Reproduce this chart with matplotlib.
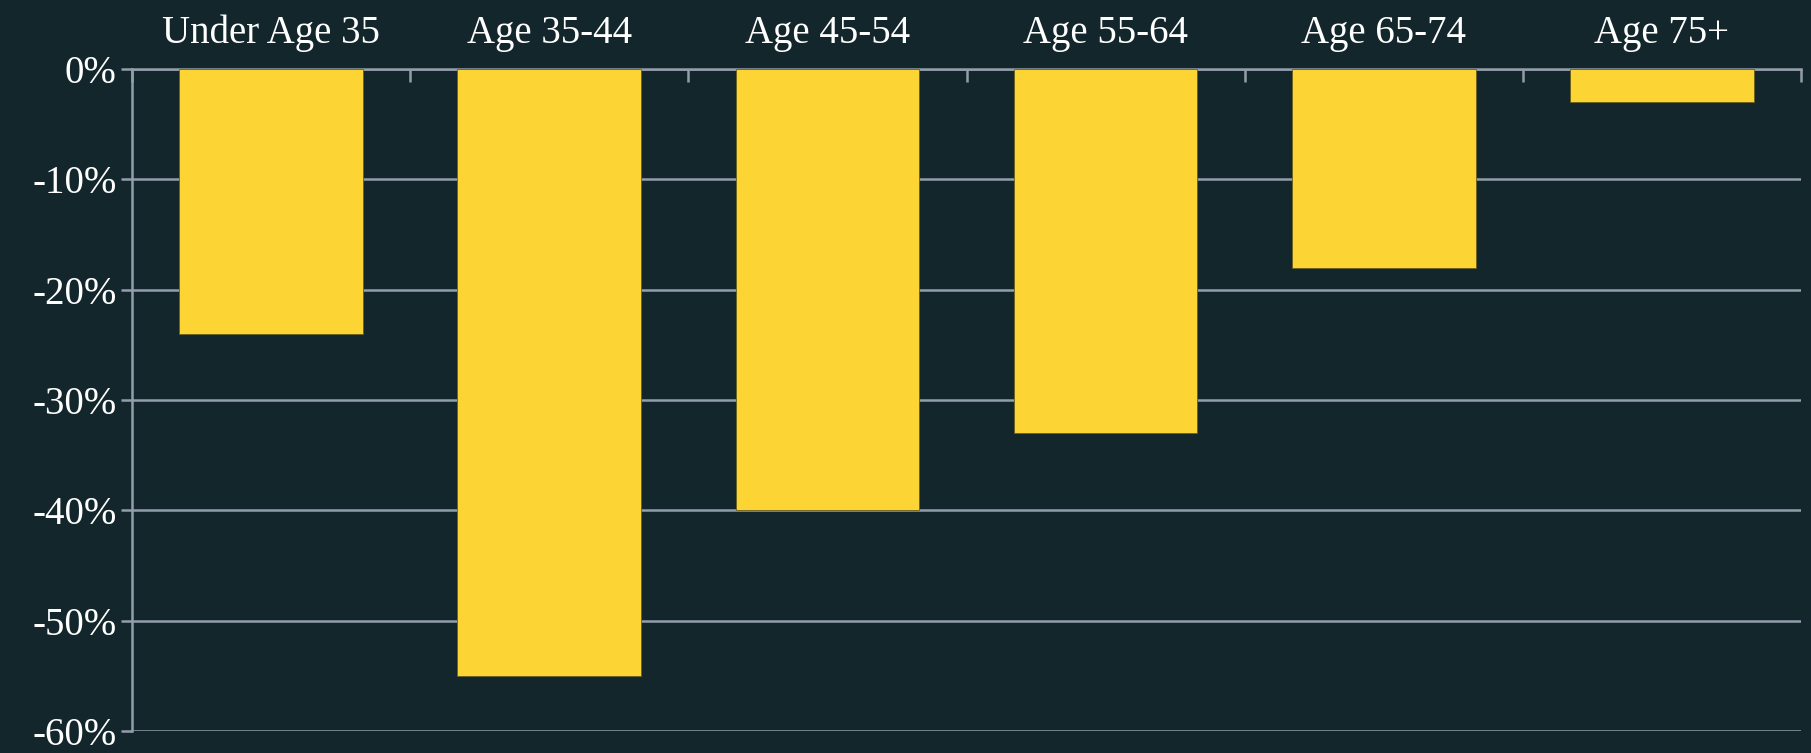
import matplotlib.pyplot as plt
import numpy as np
from matplotlib.ticker import FuncFormatter, FixedLocator

# age groups and percent change
categories = ['Under Age 35', 'Age 35-44', 'Age 45-54', 'Age 55-64', 'Age 65-74', 'Age 75+']
pct_change = [-24, -55, -40, -33, -18, -3]

bg = '#13262c'
bar_color = '#fcd535'
grid_color = '#939eac'

plt.rcParams['font.family'] = ['Liberation Serif', 'DejaVu Serif']

fig = plt.figure(figsize=(18.11, 7.53), dpi=100, facecolor=bg)
ax = fig.add_axes([0.0729, 0.029, 0.9216, 0.8794])
ax.set_facecolor(bg)

x = np.arange(len(categories))
ax.bar(x, pct_change, width=0.66, color=bar_color, edgecolor='#6b5e1e', linewidth=0.6, zorder=3)

ax.set_xlim(-0.5, len(categories) - 0.5)
ax.set_ylim(-60, 0)
ax.set_yticks(np.arange(-60, 1, 10))
ax.yaxis.set_major_formatter(FuncFormatter(lambda v, p: f"{int(v)}%"))
ax.yaxis.grid(True, color=grid_color, linewidth=1.8, zorder=1)

# category labels on top, boundary ticks pointing down
ax.xaxis.tick_top()
ax.set_xticks(x)
ax.set_xticklabels(categories)
ax.xaxis.set_minor_locator(FixedLocator(np.arange(-0.5, len(categories), 1)))
ax.tick_params(axis='x', which='major', length=0, pad=12, labelsize=28, colors='white')
ax.tick_params(axis='x', which='minor', direction='in', length=9, width=1.8, color=grid_color)
ax.tick_params(axis='y', length=8, width=1.8, color=grid_color, labelsize=28, labelcolor='white', pad=3)

for side in ['right', 'bottom']:
    ax.spines[side].set_visible(False)
for side in ['left', 'top']:
    ax.spines[side].set_color(grid_color)
    ax.spines[side].set_linewidth(1.8)

plt.savefig('out.png', dpi=100, facecolor=bg)
